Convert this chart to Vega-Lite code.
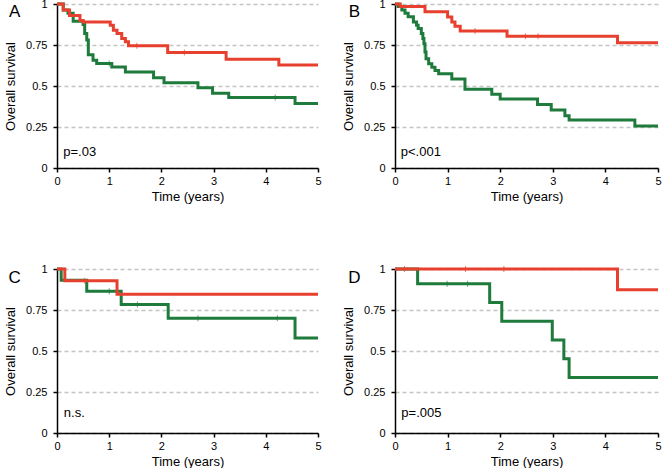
{
  "$schema": "https://vega.github.io/schema/vega-lite/v6.json",
  "padding": {"left": 4, "top": -2, "right": 0, "bottom": 0},
  "background": "white",
  "datasets": {
    "surv": [
      {"panel":"A","g":"Group 2","t":0,"s":1},{"panel":"A","g":"Group 2","t":0.12,"s":0.963},{"panel":"A","g":"Group 2","t":0.21,"s":0.943},{"panel":"A","g":"Group 2","t":0.31,"s":0.895},{"panel":"A","g":"Group 2","t":0.5,"s":0.875},{"panel":"A","g":"Group 2","t":0.53,"s":0.82},{"panel":"A","g":"Group 2","t":0.57,"s":0.78},{"panel":"A","g":"Group 2","t":0.6,"s":0.69},{"panel":"A","g":"Group 2","t":0.69,"s":0.657},{"panel":"A","g":"Group 2","t":0.76,"s":0.637},{"panel":"A","g":"Group 2","t":1.05,"s":0.616},{"panel":"A","g":"Group 2","t":1.31,"s":0.586},{"panel":"A","g":"Group 2","t":1.85,"s":0.551},{"panel":"A","g":"Group 2","t":2.05,"s":0.52},{"panel":"A","g":"Group 2","t":2.7,"s":0.489},{"panel":"A","g":"Group 2","t":2.98,"s":0.456},{"panel":"A","g":"Group 2","t":3.29,"s":0.43},{"panel":"A","g":"Group 2","t":4.56,"s":0.393},{"panel":"A","g":"Group 2","t":5,"s":0.393},
      {"panel":"A","g":"Group 1","t":0,"s":1},{"panel":"A","g":"Group 1","t":0.12,"s":0.963},{"panel":"A","g":"Group 1","t":0.24,"s":0.93},{"panel":"A","g":"Group 1","t":0.44,"s":0.9},{"panel":"A","g":"Group 1","t":0.5,"s":0.89},{"panel":"A","g":"Group 1","t":1.02,"s":0.871},{"panel":"A","g":"Group 1","t":1.08,"s":0.84},{"panel":"A","g":"Group 1","t":1.15,"s":0.82},{"panel":"A","g":"Group 1","t":1.24,"s":0.79},{"panel":"A","g":"Group 1","t":1.31,"s":0.77},{"panel":"A","g":"Group 1","t":1.37,"s":0.745},{"panel":"A","g":"Group 1","t":2.12,"s":0.704},{"panel":"A","g":"Group 1","t":3.24,"s":0.663},{"panel":"A","g":"Group 1","t":4.25,"s":0.628},{"panel":"A","g":"Group 1","t":5,"s":0.628},
      {"panel":"B","g":"Group 2","t":0,"s":1},{"panel":"B","g":"Group 2","t":0.06,"s":0.984},{"panel":"B","g":"Group 2","t":0.13,"s":0.963},{"panel":"B","g":"Group 2","t":0.19,"s":0.943},{"panel":"B","g":"Group 2","t":0.25,"s":0.922},{"panel":"B","g":"Group 2","t":0.35,"s":0.891},{"panel":"B","g":"Group 2","t":0.41,"s":0.871},{"panel":"B","g":"Group 2","t":0.44,"s":0.85},{"panel":"B","g":"Group 2","t":0.5,"s":0.82},{"panel":"B","g":"Group 2","t":0.53,"s":0.789},{"panel":"B","g":"Group 2","t":0.55,"s":0.758},{"panel":"B","g":"Group 2","t":0.57,"s":0.707},{"panel":"B","g":"Group 2","t":0.59,"s":0.666},{"panel":"B","g":"Group 2","t":0.64,"s":0.635},{"panel":"B","g":"Group 2","t":0.7,"s":0.615},{"panel":"B","g":"Group 2","t":0.76,"s":0.594},{"panel":"B","g":"Group 2","t":0.83,"s":0.574},{"panel":"B","g":"Group 2","t":1.08,"s":0.543},{"panel":"B","g":"Group 2","t":1.33,"s":0.48},{"panel":"B","g":"Group 2","t":1.84,"s":0.45},{"panel":"B","g":"Group 2","t":2.0,"s":0.42},{"panel":"B","g":"Group 2","t":2.71,"s":0.387},{"panel":"B","g":"Group 2","t":2.97,"s":0.354},{"panel":"B","g":"Group 2","t":3.23,"s":0.319},{"panel":"B","g":"Group 2","t":3.31,"s":0.292},{"panel":"B","g":"Group 2","t":4.56,"s":0.256},{"panel":"B","g":"Group 2","t":5,"s":0.256},
      {"panel":"B","g":"Group 1","t":0,"s":1},{"panel":"B","g":"Group 1","t":0.1,"s":0.984},{"panel":"B","g":"Group 1","t":0.57,"s":0.953},{"panel":"B","g":"Group 1","t":1.0,"s":0.92},{"panel":"B","g":"Group 1","t":1.08,"s":0.89},{"panel":"B","g":"Group 1","t":1.14,"s":0.865},{"panel":"B","g":"Group 1","t":1.24,"s":0.836},{"panel":"B","g":"Group 1","t":2.13,"s":0.804},{"panel":"B","g":"Group 1","t":4.23,"s":0.763},{"panel":"B","g":"Group 1","t":5,"s":0.763},
      {"panel":"C","g":"Group 2","t":0,"s":1},{"panel":"C","g":"Group 2","t":0.08,"s":0.931},{"panel":"C","g":"Group 2","t":0.57,"s":0.864},{"panel":"C","g":"Group 2","t":1.23,"s":0.783},{"panel":"C","g":"Group 2","t":2.13,"s":0.7},{"panel":"C","g":"Group 2","t":4.56,"s":0.58},{"panel":"C","g":"Group 2","t":5,"s":0.58},
      {"panel":"C","g":"Group 1","t":0,"s":1},{"panel":"C","g":"Group 1","t":0.15,"s":0.929},{"panel":"C","g":"Group 1","t":1.15,"s":0.846},{"panel":"C","g":"Group 1","t":5,"s":0.846},
      {"panel":"D","g":"Group 2","t":0,"s":1},{"panel":"D","g":"Group 2","t":0.43,"s":0.91},{"panel":"D","g":"Group 2","t":1.8,"s":0.796},{"panel":"D","g":"Group 2","t":2.03,"s":0.682},{"panel":"D","g":"Group 2","t":2.99,"s":0.567},{"panel":"D","g":"Group 2","t":3.21,"s":0.453},{"panel":"D","g":"Group 2","t":3.31,"s":0.339},{"panel":"D","g":"Group 2","t":5,"s":0.339},
      {"panel":"D","g":"Group 1","t":0,"s":1},{"panel":"D","g":"Group 1","t":4.23,"s":0.873},{"panel":"D","g":"Group 1","t":5,"s":0.873}
    ],
    "cens": [
      {"panel":"A","g":"Group 1","t":1.53,"s":0.745},{"panel":"A","g":"Group 1","t":2.44,"s":0.704},{"panel":"A","g":"Group 2","t":1.0,"s":0.637},{"panel":"A","g":"Group 2","t":4.18,"s":0.43},
      {"panel":"B","g":"Group 1","t":1.52,"s":0.836},{"panel":"B","g":"Group 1","t":2.48,"s":0.804},{"panel":"B","g":"Group 1","t":2.72,"s":0.804},
      {"panel":"C","g":"Group 1","t":0.53,"s":0.929},{"panel":"C","g":"Group 2","t":1.0,"s":0.864},{"panel":"C","g":"Group 2","t":1.54,"s":0.783},{"panel":"C","g":"Group 2","t":2.7,"s":0.7},{"panel":"C","g":"Group 2","t":4.22,"s":0.7},
      {"panel":"D","g":"Group 1","t":0.18,"s":1},{"panel":"D","g":"Group 1","t":1.34,"s":1},{"panel":"D","g":"Group 1","t":2.07,"s":1},{"panel":"D","g":"Group 2","t":0.99,"s":0.91},{"panel":"D","g":"Group 2","t":1.38,"s":0.91}
    ],
    "notes": [
      {"panel":"A","label":"p=.03","letter":"A"},{"panel":"B","label":"p<.001","letter":"B"},{"panel":"C","label":"n.s.","letter":"C"},{"panel":"D","label":"p=.005","letter":"D"}
    ]
  },
  "columns": 2,
  "spacing": {"row": 60, "column": 18},
  "concat": [
    {
      "width": 261, "height": 164,
      "layer": [
        {"data": {"name": "surv"}, "transform": [{"filter": "datum.panel === 'A'"}],
         "mark": {"type": "line", "interpolate": "step-after", "strokeWidth": 3},
         "encoding": {
           "x": {"field": "t", "type": "quantitative", "scale": {"domain": [0, 5]}, "axis": {"values": [0,1,2,3,4,5], "title": "Time (years)"}},
           "y": {"field": "s", "type": "quantitative", "scale": {"domain": [0, 1]}, "axis": {"values": [0,0.25,0.5,0.75,1], "title": "Overall survival", "labelExpr": "'' + datum.value"}},
           "color": {"field": "g", "type": "nominal", "scale": {"domain": ["Group 1","Group 2"], "range": ["#e8402f","#1e7b3c"]}, "legend": null}
         }},
        {"data": {"name": "cens"}, "transform": [{"filter": "datum.panel === 'A'"}],
         "mark": {"type": "tick", "orient": "vertical", "size": 6, "thickness": 1},
         "encoding": {"x": {"field": "t", "type": "quantitative"}, "y": {"field": "s", "type": "quantitative"}, "color": {"field": "g", "type": "nominal", "legend": null}}},
        {"data": {"name": "notes"}, "transform": [{"filter": "datum.panel === 'A'"}],
         "mark": {"type": "text", "align": "left", "baseline": "middle", "fontSize": 13, "color": "black"},
         "encoding": {"x": {"datum": 0.12, "type": "quantitative"}, "y": {"datum": 0.1, "type": "quantitative"}, "text": {"field": "label"}}},
        {"data": {"name": "notes"}, "transform": [{"filter": "datum.panel === 'A'"}],
         "mark": {"type": "text", "align": "center", "baseline": "middle", "fontSize": 17, "color": "black"},
         "encoding": {"x": {"datum": -0.81, "type": "quantitative"}, "y": {"datum": 0.95, "type": "quantitative"}, "text": {"field": "letter"}}}
      ]
    },
    {
      "width": 263, "height": 164,
      "layer": [
        {"data": {"name": "surv"}, "transform": [{"filter": "datum.panel === 'B'"}],
         "mark": {"type": "line", "interpolate": "step-after", "strokeWidth": 3},
         "encoding": {
           "x": {"field": "t", "type": "quantitative", "scale": {"domain": [0, 5]}, "axis": {"values": [0,1,2,3,4,5], "title": "Time (years)"}},
           "y": {"field": "s", "type": "quantitative", "scale": {"domain": [0, 1]}, "axis": {"values": [0,0.25,0.5,0.75,1], "title": "Overall survival", "labelExpr": "'' + datum.value"}},
           "color": {"field": "g", "type": "nominal", "scale": {"domain": ["Group 1","Group 2"], "range": ["#e8402f","#1e7b3c"]}, "legend": null}
         }},
        {"data": {"name": "cens"}, "transform": [{"filter": "datum.panel === 'B'"}],
         "mark": {"type": "tick", "orient": "vertical", "size": 6, "thickness": 1},
         "encoding": {"x": {"field": "t", "type": "quantitative"}, "y": {"field": "s", "type": "quantitative"}, "color": {"field": "g", "type": "nominal", "legend": null}}},
        {"data": {"name": "notes"}, "transform": [{"filter": "datum.panel === 'B'"}],
         "mark": {"type": "text", "align": "left", "baseline": "middle", "fontSize": 13, "color": "black"},
         "encoding": {"x": {"datum": 0.11, "type": "quantitative"}, "y": {"datum": 0.1, "type": "quantitative"}, "text": {"field": "label"}}},
        {"data": {"name": "notes"}, "transform": [{"filter": "datum.panel === 'B'"}],
         "mark": {"type": "text", "align": "center", "baseline": "middle", "fontSize": 17, "color": "black"},
         "encoding": {"x": {"datum": -0.77, "type": "quantitative"}, "y": {"datum": 0.95, "type": "quantitative"}, "text": {"field": "letter"}}}
      ]
    },
    {
      "width": 261, "height": 164,
      "layer": [
        {"data": {"name": "surv"}, "transform": [{"filter": "datum.panel === 'C'"}],
         "mark": {"type": "line", "interpolate": "step-after", "strokeWidth": 3},
         "encoding": {
           "x": {"field": "t", "type": "quantitative", "scale": {"domain": [0, 5]}, "axis": {"values": [0,1,2,3,4,5], "title": "Time (years)"}},
           "y": {"field": "s", "type": "quantitative", "scale": {"domain": [0, 1]}, "axis": {"values": [0,0.25,0.5,0.75,1], "title": "Overall survival", "labelExpr": "'' + datum.value"}},
           "color": {"field": "g", "type": "nominal", "scale": {"domain": ["Group 1","Group 2"], "range": ["#e8402f","#1e7b3c"]}, "legend": null}
         }},
        {"data": {"name": "cens"}, "transform": [{"filter": "datum.panel === 'C'"}],
         "mark": {"type": "tick", "orient": "vertical", "size": 6, "thickness": 1},
         "encoding": {"x": {"field": "t", "type": "quantitative"}, "y": {"field": "s", "type": "quantitative"}, "color": {"field": "g", "type": "nominal", "legend": null}}},
        {"data": {"name": "notes"}, "transform": [{"filter": "datum.panel === 'C'"}],
         "mark": {"type": "text", "align": "left", "baseline": "middle", "fontSize": 13, "color": "black"},
         "encoding": {"x": {"datum": 0.13, "type": "quantitative"}, "y": {"datum": 0.12, "type": "quantitative"}, "text": {"field": "label"}}},
        {"data": {"name": "notes"}, "transform": [{"filter": "datum.panel === 'C'"}],
         "mark": {"type": "text", "align": "center", "baseline": "middle", "fontSize": 17, "color": "black"},
         "encoding": {"x": {"datum": -0.81, "type": "quantitative"}, "y": {"datum": 0.945, "type": "quantitative"}, "text": {"field": "letter"}}}
      ]
    },
    {
      "width": 263, "height": 164,
      "layer": [
        {"data": {"name": "surv"}, "transform": [{"filter": "datum.panel === 'D'"}],
         "mark": {"type": "line", "interpolate": "step-after", "strokeWidth": 3},
         "encoding": {
           "x": {"field": "t", "type": "quantitative", "scale": {"domain": [0, 5]}, "axis": {"values": [0,1,2,3,4,5], "title": "Time (years)"}},
           "y": {"field": "s", "type": "quantitative", "scale": {"domain": [0, 1]}, "axis": {"values": [0,0.25,0.5,0.75,1], "title": "Overall survival", "labelExpr": "'' + datum.value"}},
           "color": {"field": "g", "type": "nominal", "scale": {"domain": ["Group 1","Group 2"], "range": ["#e8402f","#1e7b3c"]}, "legend": null}
         }},
        {"data": {"name": "cens"}, "transform": [{"filter": "datum.panel === 'D'"}],
         "mark": {"type": "tick", "orient": "vertical", "size": 6, "thickness": 1},
         "encoding": {"x": {"field": "t", "type": "quantitative"}, "y": {"field": "s", "type": "quantitative"}, "color": {"field": "g", "type": "nominal", "legend": null}}},
        {"data": {"name": "notes"}, "transform": [{"filter": "datum.panel === 'D'"}],
         "mark": {"type": "text", "align": "left", "baseline": "middle", "fontSize": 13, "color": "black"},
         "encoding": {"x": {"datum": 0.12, "type": "quantitative"}, "y": {"datum": 0.125, "type": "quantitative"}, "text": {"field": "label"}}},
        {"data": {"name": "notes"}, "transform": [{"filter": "datum.panel === 'D'"}],
         "mark": {"type": "text", "align": "center", "baseline": "middle", "fontSize": 17, "color": "black"},
         "encoding": {"x": {"datum": -0.77, "type": "quantitative"}, "y": {"datum": 0.945, "type": "quantitative"}, "text": {"field": "letter"}}}
      ]
    }
  ],
  "config": {
    "font": "Liberation Sans",
    "view": {"stroke": null},
    "text": {"font": "Liberation Sans"},
    "style": {"guide-title": {"fontWeight": "normal"}},
    "axis": {"domainColor": "black", "domainWidth": 1.5, "tickColor": "black", "tickWidth": 1.5, "tickSize": 4, "labelFont": "Liberation Sans", "labelFontSize": 11, "labelColor": "black", "titleFont": "Liberation Sans", "titleFontSize": 13, "titleFontWeight": "normal", "titleColor": "black", "grid": false},
    "axisY": {"grid": true, "gridDash": [4, 3], "gridColor": "#c4c4c4", "gridWidth": 1.3, "labelPadding": 6, "titlePadding": 8, "titleFontWeight": "normal"},
    "axisX": {"labelPadding": 3, "titlePadding": 4, "labelFlush": false, "titleFontWeight": "normal"}
  }
}
